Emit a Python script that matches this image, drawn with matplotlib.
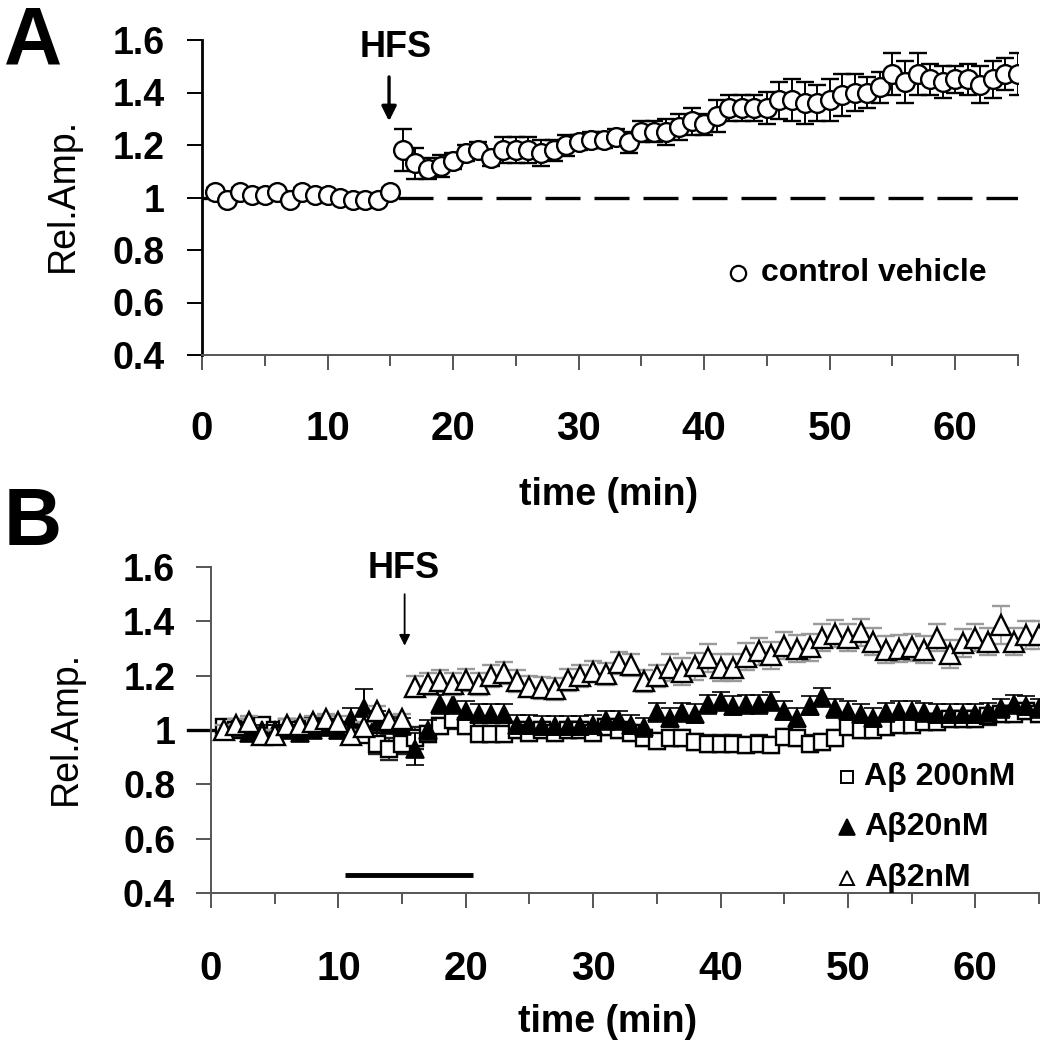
import matplotlib
matplotlib.use("Agg")
import matplotlib.pyplot as plt
import numpy as np

plt.rcParams['font.family'] = ['Liberation Sans', 'DejaVu Sans']
plt.rcParams['font.weight'] = 'bold'

# ---------------- data ----------------
time_min = list(range(1, 66))

ctrl_vehicle = [1.02, 0.99, 1.02, 1.01, 1.01, 1.02, 0.99, 1.02, 1.01, 1.01, 1.00, 0.99, 0.99, 0.99, 1.02,
                1.18, 1.13, 1.11, 1.12, 1.14, 1.17, 1.18, 1.15, 1.18, 1.18, 1.18, 1.17, 1.18, 1.20, 1.21,
                1.22, 1.22, 1.23, 1.21, 1.25, 1.25, 1.25, 1.27, 1.29, 1.28, 1.31, 1.34, 1.34, 1.34, 1.34,
                1.37, 1.37, 1.36, 1.36, 1.37, 1.39, 1.40, 1.40, 1.42, 1.47, 1.44, 1.47, 1.45, 1.44, 1.45,
                1.45, 1.43, 1.45, 1.47, 1.47]
ctrl_sem = [0.015] * 15 + [0.08, 0.06, 0.04, 0.04, 0.03, 0.03, 0.03, 0.03, 0.05, 0.05, 0.05, 0.05, 0.04, 0.04, 0.03,
                           0.03, 0.03, 0.03, 0.04, 0.04, 0.04, 0.05, 0.05, 0.05, 0.04, 0.06, 0.05, 0.05, 0.05, 0.06,
                           0.07, 0.08, 0.08, 0.07, 0.08, 0.08, 0.07, 0.06, 0.06, 0.08, 0.08, 0.08, 0.06, 0.06, 0.05,
                           0.06, 0.07, 0.07, 0.06, 0.08]

ab200 = [1.01, 1.00, 1.01, 1.02, 1.00, 1.01, 1.00, 1.02, 1.01, 1.00, 0.99, 0.98, 0.95, 0.93, 0.95,
         0.97, 0.985, 1.015, 1.035, 1.015, 0.985, 0.985, 0.985, 1.00, 0.99, 1.00, 0.99, 1.00, 1.00, 0.99,
         1.01, 1.00, 0.99, 0.97, 0.96, 0.97, 0.97, 0.955, 0.95, 0.95, 0.95, 0.945, 0.95, 0.945, 0.975,
         0.97, 0.95, 0.955, 0.97, 1.01, 1.00, 1.00, 1.01, 1.02, 1.02, 1.03, 1.03, 1.04, 1.04, 1.04,
         1.05, 1.06, 1.06, 1.07, 1.06]
ab200_sem = [0.02] * 12 + [0.04, 0.04, 0.04, 0.04] + [0.03] * 49

ab20 = [1.00, 1.01, 0.99, 1.00, 1.00, 1.00, 0.99, 1.00, 1.01, 1.00, 1.04, 1.08, 1.03, 1.02, 1.015,
        0.93, 1.00, 1.095, 1.095, 1.07, 1.06, 1.06, 1.06, 1.02, 1.02, 1.015, 1.015, 1.015, 1.015, 1.02,
        1.035, 1.035, 1.02, 1.01, 1.065, 1.045, 1.065, 1.06, 1.095, 1.105, 1.09, 1.095, 1.095, 1.105, 1.07,
        1.045, 1.09, 1.12, 1.08, 1.07, 1.06, 1.045, 1.065, 1.07, 1.07, 1.065, 1.06, 1.06, 1.06, 1.06,
        1.065, 1.08, 1.095, 1.09, 1.08]
ab20_sem = [0.02] * 10 + [0.04, 0.07, 0.04, 0.03, 0.03, 0.06] + [0.035] * 49

ab2 = [1.00, 1.02, 1.03, 0.98, 0.98, 1.02, 1.02, 1.03, 1.04, 1.03, 0.98, 1.01, 1.07, 1.035, 1.04,
       1.16, 1.17, 1.18, 1.17, 1.185, 1.17, 1.20, 1.21, 1.18, 1.16, 1.155, 1.15, 1.185, 1.20, 1.215,
       1.205, 1.246, 1.24, 1.18, 1.20, 1.23, 1.215, 1.235, 1.265, 1.23, 1.23, 1.27, 1.29, 1.275, 1.31,
       1.30, 1.305, 1.34, 1.355, 1.34, 1.36, 1.325, 1.295, 1.30, 1.305, 1.295, 1.34, 1.28, 1.32, 1.34,
       1.325, 1.385, 1.325, 1.35, 1.35]
ab2_sem = [0.02] * 15 + [0.04] * 20 + [0.05] * 26 + [0.07, 0.05, 0.05, 0.05]

y_ticks = [0.4, 0.6, 0.8, 1.0, 1.2, 1.4, 1.6]
y_ticklabels = ['0.4', '0.6', '0.8', '1', '1.2', '1.4', '1.6']
x_major = [0, 10, 20, 30, 40, 50, 60]
x_minor = [5, 15, 25, 35, 45, 55, 65]

W, H = 1050, 1044
fig = plt.figure(figsize=(W / 100, H / 100), dpi=100)

def style_axes(ax, left_color, left_lw, ylabel_pad, xlabel_pad):
    ax.set_xlim(0, 65)
    ax.set_ylim(0.4, 1.6)
    for s in ['top', 'right']:
        ax.spines[s].set_visible(False)
    ax.spines['left'].set_color(left_color)
    ax.spines['left'].set_linewidth(left_lw)
    ax.spines['bottom'].set_color('#555555')
    ax.spines['bottom'].set_linewidth(1.4)
    ax.set_yticks(y_ticks)
    ax.set_yticklabels(y_ticklabels)
    ax.set_xticks(x_major)
    ax.set_xticks(x_minor, minor=True)
    ax.tick_params(axis='y', direction='out', length=10.8, width=1.4, colors=left_color,
                   labelcolor='black', labelsize=27, pad=ylabel_pad)
    ax.tick_params(axis='x', which='major', direction='out', length=10.8, width=1.4,
                   colors='#555555', labelcolor='black', labelsize=29, pad=xlabel_pad)
    ax.tick_params(axis='x', which='minor', direction='out', length=8, width=1.4, colors='#555555')
    for lab in ax.get_xticklabels() + ax.get_yticklabels():
        lab.set_fontweight('bold')

# ---------------- Panel A ----------------
axA = fig.add_axes([202 / W, 1 - 355 / H, 816 / W, 315 / H])
style_axes(axA, 'black', 2.0, 16, 29)
axA.plot([0, 65], [1.0, 1.0], color='black', lw=2.4, linestyle=(0, (10.5, 4.2)), zorder=1)
axA.errorbar(time_min, ctrl_vehicle, yerr=ctrl_sem, fmt='o', ms=13.5, mfc='white', mec='black',
             mew=1.7, ecolor='black', elinewidth=1.4, capsize=6.5, capthick=1.6, zorder=3)
axA.text(15.4, 1.573, 'HFS', ha='center', va='center', fontsize=26, fontweight='bold')
axA.annotate('', xy=(14.9, 1.28), xytext=(14.9, 1.47),
             arrowprops=dict(arrowstyle='-|>', color='black', lw=2.4, mutation_scale=22))
axA.plot([42.7], [0.712], 'o', ms=11, mfc='white', mec='black', mew=1.6)
axA.text(44.5, 0.712, 'control vehicle', ha='left', va='center', fontsize=23, fontweight='bold')

# ---------------- Panel B ----------------
axB = fig.add_axes([211 / W, 1 - 893 / H, 828 / W, 326 / H])
style_axes(axB, '#555555', 1.4, 15, 30)
axB.plot([-1.8, 0.6], [1.0, 1.0], color='black', lw=2.4, clip_on=False, zorder=2)
axB.errorbar(time_min, ab200, yerr=ab200_sem, fmt='s', ms=12, mfc='white', mec='black',
             mew=1.7, ecolor='#222222', elinewidth=1.3, capsize=6.5, capthick=1.5, zorder=3)
axB.errorbar(time_min, ab20, yerr=ab20_sem, fmt='^', ms=13, mfc='black', mec='black',
             mew=1.2, ecolor='black', elinewidth=1.4, capsize=6.5, capthick=1.6, zorder=4)
axB.errorbar(time_min, ab2, yerr=ab2_sem, fmt='^', ms=14, mfc='white', mec='black',
             mew=1.7, ecolor='#9a9a9a', elinewidth=1.2, capsize=6.5, capthick=1.2, zorder=5)
axB.text(15.1, 1.596, 'HFS', ha='center', va='center', fontsize=26, fontweight='bold')
axB.annotate('', xy=(15.2, 1.30), xytext=(15.2, 1.51),
             arrowprops=dict(arrowstyle='-|>', color='black', lw=1.3, mutation_scale=16))
axB.plot([10.5, 20.6], [0.466, 0.466], color='black', lw=3.5, solid_capstyle='butt')
axB.plot([49.9], [0.827], 's', ms=9, mfc='white', mec='black', mew=1.4)
axB.text(51.3, 0.827, 'Aβ 200nM', ha='left', va='center', fontsize=23, fontweight='bold')
axB.plot([49.9], [0.643], '^', ms=11, mfc='black', mec='black', mew=1.2)
axB.text(51.3, 0.643, 'Aβ20nM', ha='left', va='center', fontsize=23, fontweight='bold')
axB.plot([49.9], [0.455], '^', ms=10, mfc='white', mec='black', mew=1.4, clip_on=False)
axB.text(51.3, 0.455, 'Aβ2nM', ha='left', va='center', fontsize=23, fontweight='bold')

# ---------------- labels ----------------
fig.text(33 / W, 1 - 64 / H, 'A', ha='center', va='baseline', fontsize=58, fontweight='bold')
fig.text(33 / W, 1 - 545 / H, 'B', ha='center', va='baseline', fontsize=58, fontweight='bold')
fig.text(63 / W, 1 - 195 / H, 'Rel.Amp.', rotation=90, ha='center', va='center', fontsize=27, fontweight='normal')
fig.text(66 / W, 1 - 728 / H, 'Rel.Amp.', rotation=90, ha='center', va='center', fontsize=27, fontweight='normal')
fig.text(609 / W, 1 - 495 / H, 'time (min)', ha='center', va='center', fontsize=27, fontweight='bold')
fig.text(608 / W, 1 - 1022 / H, 'time (min)', ha='center', va='center', fontsize=27, fontweight='bold')

fig.savefig('out.png', dpi=100, facecolor='white')
